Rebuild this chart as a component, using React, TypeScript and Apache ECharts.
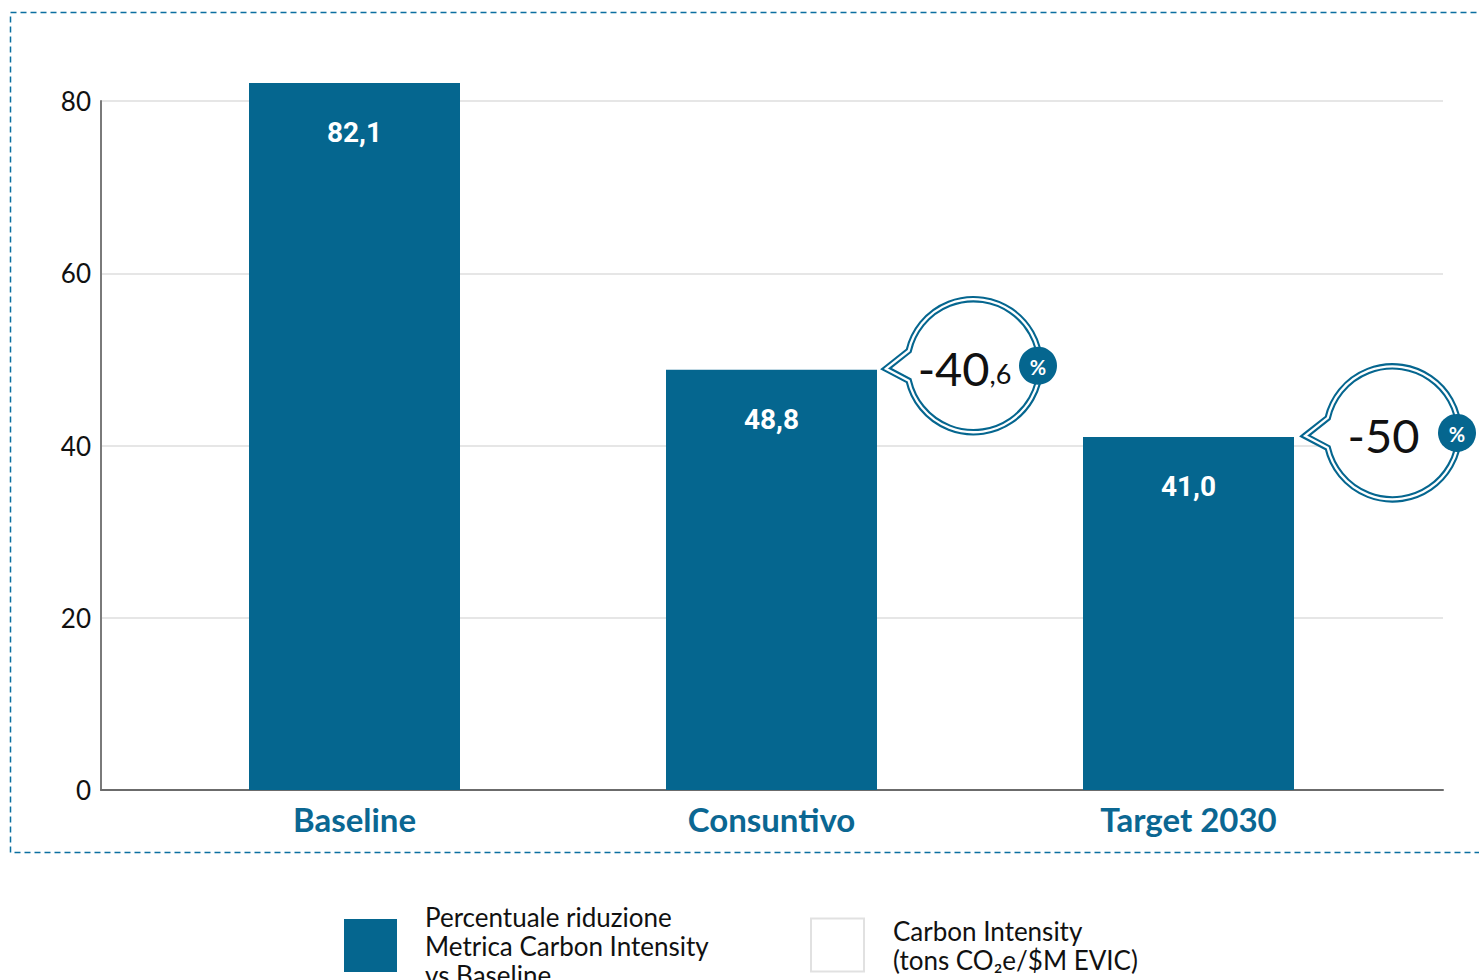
import React, { useEffect, useRef } from "react";
import * as echarts from "echarts";

const categories = ["Baseline", "Consuntivo", "Target 2030"];
const values = [82.1, 48.8, 41.0];
const valueLabels = ["82,1", "48,8", "41,0"];
const reductionCategoryIndex = [1, 2];
const reductionMain = ["-40", "-50"];
const reductionDecimal = [",6", ""];
const yMin = 0;
const yMax = 80;
const yInterval = 20;
const seriesName = "Percentuale riduzione\nMetrica Carbon Intensity\nvs Baseline";
const secondName = "Carbon Intensity\n(tons CO₂e/$M EVIC)";

const BLUE = "#05668f";
const FONT = "Lato, 'Open Sans', sans-serif";

export default function App() {
  const ref = useRef<HTMLDivElement>(null);
  useEffect(() => {
    if (!ref.current) return;
    const chart = echarts.init(ref.current, undefined, { renderer: "svg" });
    const barWidth = 211;

    const renderCallout = (params: any, api: any) => {
      const i = params.dataIndex;
      const pt = api.coord([api.value(0), api.value(1)]);
      const right = pt[0] + barWidth / 2;
      const tipX = right + 9 + i * 2;
      const tipY = pt[1] - 1;
      const r = 66.5;
      const cx = tipX + 87.5;
      const cy = pt[1] - 4;
      const h = (13 * Math.PI) / 180;
      const ux = cx - r * Math.cos(h);
      const uy = cy - r * Math.sin(h);
      const ly = cy + r * Math.sin(h);
      const d = `M${tipX},${tipY} L${ux},${uy} A${r},${r} 0 1 1 ${ux},${ly} Z`;
      const rect = { x: tipX, y: cy - r, width: cx + r - tipX, height: 2 * r };
      const text = reductionDecimal[i]
        ? `{a|${reductionMain[i]}}{b|${reductionDecimal[i]}}`
        : `{a|${reductionMain[i]}}`;
      return {
        type: "group",
        children: [
          {
            type: "path",
            shape: { pathData: d, ...rect, layout: "cover" },
            style: { fill: "#fff", stroke: BLUE, lineWidth: 6.5, lineJoin: "miter" },
          },
          {
            type: "path",
            shape: { pathData: d, ...rect, layout: "cover" },
            style: { fill: "none", stroke: "#fff", lineWidth: 2.3, lineJoin: "miter" },
          },
          {
            type: "text",
            x: cx - 9,
            y: cy + 2,
            style: {
              text,
              align: "center",
              verticalAlign: "middle",
              fill: "#111",
              fontFamily: FONT,
              rich: {
                a: { fontSize: 47, lineHeight: 47, fontFamily: FONT, fontWeight: "normal", fill: "#111" },
                b: {
                  fontSize: 27,
                  lineHeight: 27,
                  verticalAlign: "bottom",
                  padding: [0, 0, 4, 0],
                  fontFamily: FONT,
                  fontWeight: "normal",
                  fill: "#111",
                },
              },
            },
          },
          {
            type: "circle",
            shape: { cx: cx + 64.5, cy: cy, r: 19 },
            style: { fill: BLUE },
          },
          {
            type: "text",
            x: cx + 64.5,
            y: cy + 1,
            style: {
              text: "%",
              align: "center",
              verticalAlign: "middle",
              fill: "#fff",
              fontSize: 20,
              fontWeight: "bold",
              fontFamily: FONT,
            },
          },
        ],
      };
    };

    const legendText = {
      fontSize: 26,
      lineHeight: 29,
      color: "#111",
      fontFamily: FONT,
      padding: [0, 0, 0, 23],
    };

    chart.setOption({
      animation: false,
      textStyle: { fontFamily: FONT },
      grid: [
        { left: 101, right: 36, top: 101, bottom: 190 },
        { left: 146, right: 82, top: 101, bottom: 190 },
      ],
      xAxis: [
        {
          gridIndex: 0,
          type: "value",
          min: 0,
          max: 1,
          axisLine: { show: true, lineStyle: { color: "#6b6b6b", width: 2 } },
          axisTick: { show: false },
          axisLabel: { show: false },
          splitLine: { show: false },
        },
        {
          gridIndex: 1,
          type: "category",
          data: categories,
          axisLine: { show: false },
          axisTick: { show: false },
          axisLabel: {
            fontSize: 33,
            fontWeight: "bold",
            color: "#0b6792",
            fontFamily: FONT,
            margin: 12,
          },
        },
      ],
      yAxis: [
        {
          gridIndex: 0,
          type: "value",
          min: yMin,
          max: yMax,
          interval: yInterval,
          axisLine: { show: true, lineStyle: { color: "#7a7a7a", width: 2 } },
          axisTick: { show: false },
          axisLabel: { fontSize: 26, color: "#111", margin: 10, fontFamily: FONT },
          splitLine: { show: true, lineStyle: { color: "#e6e6e6", width: 2 } },
        },
        {
          gridIndex: 1,
          type: "value",
          min: yMin,
          max: yMax,
          interval: yInterval,
          show: false,
          splitLine: { show: false },
        },
      ],
      legend: [
        {
          data: [{ name: seriesName, icon: "rect" }],
          left: 344,
          top: 902,
          padding: 0,
          itemWidth: 53,
          itemHeight: 53,
          selectedMode: false,
          textStyle: legendText,
        },
        {
          data: [
            {
              name: secondName,
              icon: "rect",
              itemStyle: { color: "#fff", borderColor: "#d9d9d9", borderWidth: 2 },
            },
          ],
          left: 810,
          top: 916,
          padding: 0,
          itemWidth: 53,
          itemHeight: 53,
          selectedMode: false,
          textStyle: { ...legendText, padding: [0, 0, 0, 24] },
        },
      ],
      graphic: [
        {
          type: "rect",
          shape: { x: 10.5, y: 12.5, width: 1480, height: 840 },
          style: { fill: "none", stroke: "#0b6fa0", lineWidth: 1.5, lineDash: [6, 4] },
          silent: true,
        },
      ],
      series: [
        {
          name: seriesName,
          type: "bar",
          xAxisIndex: 1,
          yAxisIndex: 1,
          barWidth,
          clip: false,
          data: values,
          itemStyle: { color: BLUE },
          label: {
            show: true,
            position: "insideTop",
            distance: 36,
            formatter: (p: any) => valueLabels[p.dataIndex],
            color: "#fff",
            fontSize: 28,
            fontWeight: "bold",
            fontFamily: "Roboto, sans-serif",
          },
          z: 2,
        },
        {
          name: secondName,
          type: "scatter",
          xAxisIndex: 1,
          yAxisIndex: 1,
          data: [],
          itemStyle: { color: "#fff", borderColor: "#d9d9d9", borderWidth: 2 },
        },
        {
          type: "custom",
          xAxisIndex: 1,
          yAxisIndex: 1,
          data: reductionCategoryIndex.map((c) => [c, values[c]]),
          renderItem: renderCallout,
          z: 5,
          silent: true,
        },
      ],
    });
    return () => chart.dispose();
  }, []);
  return (
    <div
      ref={ref}
      style={{ position: "absolute", left: 0, top: 0, width: 1479, height: 980, background: "#fff" }}
    />
  );
}
